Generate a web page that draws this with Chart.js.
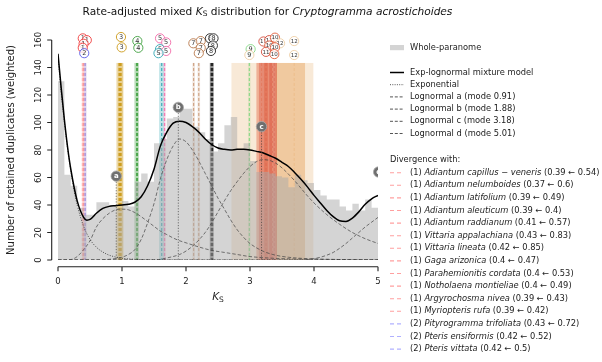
<!DOCTYPE html>
<html>
<head>
<meta charset="utf-8">
<script src="https://cdn.jsdelivr.net/npm/chart.js@4.4.0/dist/chart.umd.min.js"></script>
<style>
  html, body { margin: 0; padding: 0; background: #fff; }
  #wrap { width: 602px; height: 362px; }
</style>
</head>
<body>
<div id="wrap"><canvas id="ks" width="602" height="362"></canvas></div>
<script>
// ---------------- data ----------------
// Whole-paranome histogram, bins of width 0.1 (left edges + final right edge)
const binEdges = [0.0,0.1,0.2,0.3,0.4,0.5,0.6,0.7,0.8,0.9,1.0,1.1,1.2,1.3,1.4,1.5,1.6,1.7,1.8,1.9,
                  2.0,2.1,2.2,2.3,2.4,2.5,2.6,2.7,2.8,2.9,3.0,3.1,3.2,3.3,3.4,3.5,3.6,3.7,3.8,3.9,
                  4.0,4.1,4.2,4.3,4.4,4.5,4.6,4.7,4.8,4.9,5.0];
const paranomeCounts = [130,62,54,38,33,33,42,42,40,38,43,39,57,63,57,85,88,103,104,110,
                        110,97,93,88,79,85,98,104,80,85,72,64,64,63,61,60,53,62,58,56,
                        51,47,44,44,39,36,41,36,44,38];

// Exp-lognormal mixture model
const mixK = [0,0.05,0.1,0.15,0.2,0.3,0.4,0.45,0.5,0.6,0.7,0.8,0.9,1.0,1.1,1.2,1.3,1.4,1.5,1.6,1.7,1.8,1.9,
              2.0,2.1,2.2,2.3,2.4,2.5,2.6,2.7,2.8,2.9,3.0,3.1,3.2,3.3,3.4,3.5,3.6,3.7,3.8,3.9,
              4.0,4.1,4.2,4.3,4.4,4.5,4.6,4.7,4.8,4.9,5.0];
const mixV = [150,125,102,82,66,43,31,29,29.5,34,37.5,39,39.5,40,40.5,42,46,54,66,83,93,99.5,101,
              100,97,93,88,84,81.5,80.5,80,80.5,80.5,80,79,78,76,74,71,68,63.5,58.5,53,
              47,41.5,36,31.5,28.5,28,30.5,35,40.5,44.5,47];

// Exponential component
const expK = [0,0.05,0.1,0.15,0.2,0.25,0.3,0.4,0.5,0.6,0.7,0.8,0.9,1.0,1.2,1.5,2.0,3.0,4.0,5.0];
const expV = [148,122,100,81,65,51,40,24.5,15,9.3,5.8,3.5,2.2,1.3,0.5,0.1,0,0,0,0];

// Lognormal components
const lnaK = [0,0.1,0.2,0.3,0.4,0.5,0.6,0.7,0.8,0.9,1.0,1.1,1.2,1.3,1.4,1.5,1.6,1.7,1.8,1.9,2.0,2.2,2.4,2.6,2.8,3.0,3.5,4.0,4.5,5.0];
const lnaV = [0,0,0.3,2.5,7.5,14,24,30,34,36.5,37,36.5,34.5,31.5,28,24.5,21,18.5,16,14,12.5,9.5,7,5.5,4,2.5,1,0.6,0.3,0.2];
const lnbK = [0,0.6,0.8,1.0,1.1,1.2,1.3,1.4,1.5,1.6,1.7,1.8,1.9,2.0,2.1,2.2,2.3,2.4,2.5,2.6,2.7,2.8,2.9,3.0,3.2,3.4,3.6,3.8,4.0,4.5,5.0];
const lnbV = [0,0,0.5,2,4,7.5,15,27,41,59,73,83,88,86,80,72,63,54,45,37,29,22,16.5,12,6.5,3.5,2,1.2,0.7,0.3,0.1];
const lncK = [0,1.5,1.7,1.9,2.0,2.1,2.2,2.3,2.4,2.5,2.6,2.7,2.8,2.9,3.0,3.1,3.2,3.3,3.4,3.5,3.6,3.7,3.8,3.9,4.0,4.2,4.4,4.6,4.8,5.0];
const lncV = [0,0,1.5,4,6.5,10,14.5,20,27,35,43,50.5,57,63,68,71.5,73,72.5,70.5,67,62.5,57.5,52,46.5,41.5,33,26,20,15.5,12];
const lndK = [0,3.8,4.0,4.1,4.2,4.3,4.4,4.5,4.6,4.7,4.8,4.9,5.0];
const lndV = [0,0,1,2,3.5,5.5,8.5,12,16,20,24,27.5,31];

// Component modes and the heights of their letter markers
const modeNames = ['a','b','c','d'];
const modeK = [0.91,1.88,3.18,5.01];
const modeMarkerLevel = [61,111,97,64];

// Ortholog divergences listed in the legend (rate-adjusted <- original)
const divSpecies = ['Adiantum capillus \u2212 veneris','Adiantum nelumboides','Adiantum latifolium','Adiantum aleuticum',
  'Adiantum raddianum','Vittaria appalachiana','Vittaria lineata','Gaga arizonica','Parahemionitis cordata',
  'Notholaena montieliae','Argyrochosma nivea','Myriopteris rufa','Pityrogramma trifoliata','Pteris ensiformis','Pteris vittata'];
const divGroup    = [1,1,1,1,1,1,1,1,1,1,1,1,2,2,2];
const divAdjusted = [0.39,0.37,0.39,0.39,0.41,0.43,0.42,0.4,0.4,0.4,0.39,0.39,0.43,0.42,0.42];
const divOriginal = [0.54,0.6,0.49,0.4,0.57,0.83,0.85,0.47,0.53,0.49,0.43,0.42,0.72,0.52,0.5];
const divLo       = [0.375,0.36,0.375,0.375,0.39,0.41,0.40,0.385,0.385,0.385,0.375,0.375,0.415,0.41,0.41];
const divHi       = [0.405,0.39,0.405,0.405,0.425,0.45,0.44,0.415,0.415,0.415,0.405,0.405,0.45,0.44,0.44];

// Further ortholog divergences (older nodes)
const otherK     = [0.96,0.98,1.23,1.24,1.62,1.665,2.12,2.20,2.40,2.41,2.99,3.35,3.69,3.18,3.25,3.33,3.38];
const otherLo    = [0.91,0.93,1.19,1.21,1.58,1.65,2.10,2.18,2.37,2.38,2.97,2.71,3.40,3.10,3.14,3.22,3.30];
const otherHi    = [1.02,1.02,1.26,1.26,1.66,1.68,2.14,2.22,2.43,2.43,3.01,3.99,3.86,3.28,3.36,3.42,3.42];
const otherGroup = [3,3,4,4,6,5,7,7,8,8,9,13,12,10,11,10,11];

const xTicks = [0,1,2,3,4,5];
const yTicks = [0,20,40,60,80,100,120,140,160];

// ---------------- styles & layout ----------------
const FONT = '"DejaVu Sans", sans-serif';
const groupStyle = {
  1:  {color: '#f03c3c', band: 0.03, line: 0.08, width: 1.0, legend: 'rgba(255,80,80,0.55)'},
  2:  {color: '#5a5ae6', band: 0.08, line: 0.22, width: 1.0, legend: 'rgba(80,80,255,0.45)'},
  3:  {color: '#cc9a18', band: 0.28, line: 0.9, width: 2.0},
  4:  {color: '#3fa03f', band: 0.25, line: 0.8, width: 1.4},
  5:  {color: '#f26aa8', band: 0.3,  line: 0.8, width: 1.3},
  6:  {color: '#2fa5b2', band: 0.3,  line: 0.8, width: 1.3},
  7:  {color: '#b8774a', band: 0.18, line: 0.7, width: 1.0},
  8:  {color: '#222222', band: 0.3,  line: 0.9, width: 2.0},
  9:  {color: '#84d884', band: 0.3,  line: 0.9, width: 1.2},
  10: {color: '#e2603c', band: 0.42, line: 0.35, width: 1.0},
  11: {color: '#d44c3a', band: 0.38, line: 0.35, width: 1.0},
  12: {color: '#e6a25a', band: 0.45, line: 0.3, width: 1.0},
  13: {color: '#efcfa6', band: 0.45, line: 0.3, width: 1.0}
};
// Numbered badges above the divergence lines: K position, label, group, stacking row
const badges = [
  [0.387,'1',1,0.3],[0.45,'1',1,0.7],[0.40,'1',1,1.5],[0.387,'1',1,2.4],[0.41,'2',2,3.6],
  [0.984,'3',3,0.0],[0.995,'3',3,2.3],
  [1.24,'4',4,0.9],[1.255,'4',4,2.4],
  [1.594,'5',5,0.3],[1.69,'5',5,1.2],[1.594,'5',6,2.7],[1.69,'5',5,3.1],[1.57,'5',6,3.6],
  [2.115,'7',7,1.4],[2.23,'7',7,0.9],[2.23,'7',7,2.4],[2.20,'7',7,3.6],
  [2.375,'8',8,0.3],[2.43,'8',8,0.3],[2.42,'8',8,1.9],[2.39,'8',8,3.1],
  [3.01,'9',9,2.7],[2.99,'9',13,4.0],
  [3.21,'11',11,1.0],[3.30,'11',11,0.7],[3.39,'10',10,0.15],[3.47,'12',13,1.4],[3.30,'10',10,1.9],
  [3.39,'10',10,2.3],[3.25,'11',11,3.3],[3.38,'10',10,3.8],
  [3.69,'12',13,0.9],[3.69,'12',13,4.0]
];
const bandTopValue = 143.3;

function rgba(hex, a) {
  const n = parseInt(hex.slice(1), 16);
  return `rgba(${(n >> 16) & 255},${(n >> 8) & 255},${n & 255},${a})`;
}
function pts(xs, ys) { return xs.map((v, i) => ({x: v, y: ys[i]})); }
function richWidth(ctx, parts) {
  let w = 0;
  parts.forEach(p => { ctx.font = p.font; w += ctx.measureText(p.t).width; });
  return w;
}
function drawRich(ctx, parts, x, y) {
  let xx = x;
  parts.forEach(p => {
    ctx.font = p.font;
    ctx.fillText(p.t, xx, y + (p.dy || 0));
    xx += ctx.measureText(p.t).width;
  });
}

const histData = binEdges.map((e, i) => ({x: e, y: paranomeCounts[Math.min(i, paranomeCounts.length - 1)]}));
const HIST_FILL = 'rgba(170,170,170,0.5)';

const decor = {
  id: 'decor',
  beforeDatasetsDraw(chart) {
    const {ctx, scales: {x, y}} = chart;
    const top = y.getPixelForValue(bandTopValue), bot = y.getPixelForValue(0);
    const lines = [];
    divAdjusted.forEach((k, i) => lines.push([k, divLo[i], divHi[i], divGroup[i]]));
    otherK.forEach((k, i) => lines.push([k, otherLo[i], otherHi[i], otherGroup[i]]));
    ctx.save();
    // shaded spreads
    lines.forEach(([k, lo, hi, g]) => {
      const s = groupStyle[g];
      const x0 = x.getPixelForValue(lo), x1 = x.getPixelForValue(hi);
      ctx.fillStyle = rgba(s.color, s.band);
      ctx.fillRect(x0, top, x1 - x0, bot - top);
    });
    // dashed divergence lines
    lines.forEach(([k, lo, hi, g]) => {
      const s = groupStyle[g];
      const px = x.getPixelForValue(k);
      ctx.strokeStyle = rgba(s.color, s.line);
      ctx.lineWidth = s.width;
      ctx.setLineDash([3, 2]);
      ctx.beginPath(); ctx.moveTo(px, top); ctx.lineTo(px, bot); ctx.stroke();
    });
    ctx.restore();
  },
  afterDatasetsDraw(chart) {
    const {ctx, chartArea, scales: {x, y}} = chart;
    ctx.save();
    ctx.beginPath();
    ctx.rect(chartArea.left - 10, 0, chartArea.right - chartArea.left + 10, chart.height);
    ctx.clip();
    // dotted drops from the mode markers
    modeK.forEach((k, i) => {
      const px = x.getPixelForValue(k);
      ctx.strokeStyle = 'rgba(60,60,60,0.75)';
      ctx.lineWidth = 0.9;
      ctx.setLineDash([1.2, 1.6]);
      ctx.beginPath();
      ctx.moveTo(px, y.getPixelForValue(modeMarkerLevel[i]));
      ctx.lineTo(px, y.getPixelForValue(0));
      ctx.stroke();
    });
    ctx.setLineDash([]);
    modeK.forEach((k, i) => {
      const px = x.getPixelForValue(k), py = y.getPixelForValue(modeMarkerLevel[i]);
      ctx.beginPath(); ctx.arc(px, py, 5.2, 0, Math.PI * 2);
      ctx.fillStyle = '#6f6f6f'; ctx.fill();
      ctx.strokeStyle = '#a8a8a8'; ctx.lineWidth = 0.8; ctx.stroke();
      ctx.fillStyle = '#fff';
      ctx.font = `bold 7px ${FONT}`;
      ctx.textAlign = 'center'; ctx.textBaseline = 'middle';
      ctx.fillText(modeNames[i], px, py + 0.3);
    });
    ctx.restore();
  },
  afterDraw(chart) {
    const {ctx, chartArea, scales: {x, y}} = chart;
    ctx.save();
    // numbered badges
    ctx.textAlign = 'center'; ctx.textBaseline = 'middle';
    badges.forEach(([k, t, g, row]) => {
      const px = x.getPixelForValue(k), py = chartArea.top - 3 + row * 4.5;
      ctx.beginPath(); ctx.arc(px, py, 4.6, 0, Math.PI * 2);
      ctx.fillStyle = 'rgba(255,255,255,0.75)'; ctx.fill();
      ctx.strokeStyle = groupStyle[g].color; ctx.lineWidth = 0.9; ctx.stroke();
      ctx.fillStyle = '#333';
      ctx.font = `${t.length > 1 ? 5.5 : 6.5}px ${FONT}`;
      ctx.fillText(t, px, py + 0.3);
    });

    // offset spines and tick marks
    const spineX = chartArea.left - 6.3, spineY = chartArea.bottom + 6.7;
    ctx.strokeStyle = '#222'; ctx.lineWidth = 1.1;
    ctx.beginPath();
    ctx.moveTo(spineX, y.getPixelForValue(160)); ctx.lineTo(spineX, y.getPixelForValue(0));
    ctx.moveTo(x.getPixelForValue(0), spineY); ctx.lineTo(x.getPixelForValue(5), spineY);
    yTicks.forEach(v => { const py = y.getPixelForValue(v); ctx.moveTo(spineX - 4.5, py); ctx.lineTo(spineX, py); });
    xTicks.forEach(v => { const px = x.getPixelForValue(v); ctx.moveTo(px, spineY); ctx.lineTo(px, spineY + 4.5); });
    ctx.stroke();
    ctx.fillStyle = '#222';
    ctx.font = `8.5px ${FONT}`;
    yTicks.forEach(v => {
      ctx.save();
      ctx.translate(spineX - 13, y.getPixelForValue(v));
      ctx.rotate(-Math.PI / 2);
      ctx.textAlign = 'center'; ctx.textBaseline = 'middle';
      ctx.fillText(String(v), 0, 0);
      ctx.restore();
    });

    // x-axis title K_S
    ctx.textAlign = 'left'; ctx.textBaseline = 'middle';
    const ksParts = [{t: 'K', font: `italic 10.5px ${FONT}`}, {t: 'S', font: `7.5px ${FONT}`, dy: 2.5}];
    drawRich(ctx, ksParts, (chartArea.left + chartArea.right) / 2 - richWidth(ctx, ksParts) / 2, 297.5);

    // title
    const titleParts = [
      {t: 'Rate-adjusted mixed ', font: `10.6px ${FONT}`},
      {t: 'K', font: `italic 10.6px ${FONT}`},
      {t: 'S', font: `7.5px ${FONT}`, dy: 2.5},
      {t: ' distribution for ', font: `10.6px ${FONT}`},
      {t: 'Cryptogramma acrostichoides', font: `italic 10.6px ${FONT}`}
    ];
    ctx.fillStyle = '#111';
    drawRich(ctx, titleParts, 267.5 - richWidth(ctx, titleParts) / 2, 12);

    // legend
    const LX0 = 390, LX1 = 404, TX = 410;
    const lf = `8.3px ${FONT}`, lfi = `italic 8.3px ${FONT}`;
    ctx.fillStyle = HIST_FILL;
    ctx.fillRect(LX0, 45, LX1 - LX0, 5.2);
    ctx.fillStyle = '#222'; ctx.font = lf;
    ctx.fillText('Whole-paranome', TX, 47.5);
    const compRows = [
      ['Exp-lognormal mixture model', '#000', [], 1.5],
      ['Exponential', '#555', [1, 1.3], 1],
      ['Lognormal a (mode 0.91)', '#555', [3, 1.8], 1],
      ['Lognormal b (mode 1.88)', '#555', [3, 1.8], 1],
      ['Lognormal c (mode 3.18)', '#555', [3, 1.8], 1],
      ['Lognormal d (mode 5.01)', '#555', [3, 1.8], 1]
    ];
    compRows.forEach(([label, col, dash, w], i) => {
      const ly = 72.5 + i * 12.2;
      ctx.strokeStyle = col; ctx.lineWidth = w; ctx.setLineDash(dash);
      ctx.beginPath(); ctx.moveTo(LX0, ly); ctx.lineTo(LX1, ly); ctx.stroke();
      ctx.fillStyle = '#222'; ctx.font = lf; ctx.fillText(label, TX, ly);
    });
    ctx.setLineDash([]);
    ctx.fillText('Divergence with:', LX0, 160);
    divSpecies.forEach((name, i) => {
      const ly = 172.7 + i * 12.6;
      ctx.strokeStyle = groupStyle[divGroup[i]].legend; ctx.lineWidth = 1.1;
      ctx.setLineDash([4, 3]);
      ctx.beginPath(); ctx.moveTo(LX0, ly); ctx.lineTo(LX1 - 2, ly); ctx.stroke();
      ctx.setLineDash([]);
      ctx.fillStyle = '#222';
      drawRich(ctx, [
        {t: `(${divGroup[i]}) `, font: lf},
        {t: name, font: lfi},
        {t: ` (${divAdjusted[i]} \u2190 ${divOriginal[i]})`, font: lf}
      ], TX, ly);
    });
    ctx.restore();
  }
};

Chart.defaults.font.family = FONT;

new Chart(document.getElementById('ks'), {
  type: 'line',
  data: {
    datasets: [
      {label: 'Exp-lognormal mixture model', data: pts(mixK, mixV), borderColor: '#000', borderWidth: 1.5,
       cubicInterpolationMode: 'monotone', order: 0},
      {label: 'Exponential', data: pts(expK, expV), borderColor: 'rgba(40,40,40,0.8)', borderWidth: 1,
       borderDash: [1, 1.5], cubicInterpolationMode: 'monotone', order: 1},
      {label: 'Lognormal a', data: pts(lnaK, lnaV), borderColor: 'rgba(70,70,70,0.8)', borderWidth: 0.9,
       borderDash: [3.5, 2], cubicInterpolationMode: 'monotone', order: 2},
      {label: 'Lognormal b', data: pts(lnbK, lnbV), borderColor: 'rgba(70,70,70,0.8)', borderWidth: 0.9,
       borderDash: [3.5, 2], cubicInterpolationMode: 'monotone', order: 3},
      {label: 'Lognormal c', data: pts(lncK, lncV), borderColor: 'rgba(70,70,70,0.8)', borderWidth: 0.9,
       borderDash: [3.5, 2], cubicInterpolationMode: 'monotone', order: 4},
      {label: 'Lognormal d', data: pts(lndK, lndV), borderColor: 'rgba(70,70,70,0.8)', borderWidth: 0.9,
       borderDash: [3.5, 2], cubicInterpolationMode: 'monotone', order: 5},
      {label: 'Whole-paranome', data: histData, stepped: 'before', fill: 'origin',
       backgroundColor: HIST_FILL, borderWidth: 0, borderColor: 'rgba(0,0,0,0)', order: 10}
    ]
  },
  options: {
    responsive: false,
    animation: false,
    layout: {padding: {top: 40, right: 224, left: 0, bottom: 0}},
    elements: {point: {radius: 0, hoverRadius: 0}},
    plugins: {legend: {display: false}, title: {display: false}, tooltip: {enabled: false}},
    events: [],
    scales: {
      x: {
        type: 'linear', min: 0, max: 5,
        afterFit: s => { s.height = 102; s.paddingLeft = 0; s.paddingRight = 0; },
        afterBuildTicks: s => { s.ticks = xTicks.map(v => ({value: v})); },
        grid: {display: false, drawTicks: false},
        border: {display: false},
        ticks: {padding: 17, color: '#222', font: {size: 8.5}, maxRotation: 0}
      },
      y: {
        min: 0, max: 160,
        afterFit: s => { s.width = 58; },
        afterBuildTicks: s => { s.ticks = yTicks.map(v => ({value: v})); },
        grid: {display: false, drawTicks: false},
        border: {display: false},
        ticks: {display: false},
        title: {display: true, text: 'Number of retained duplicates (weighted)', color: '#222',
                font: {size: 10}, padding: {top: 5, bottom: 0}}
      }
    }
  },
  plugins: [decor]
});
</script>
</body>
</html>
